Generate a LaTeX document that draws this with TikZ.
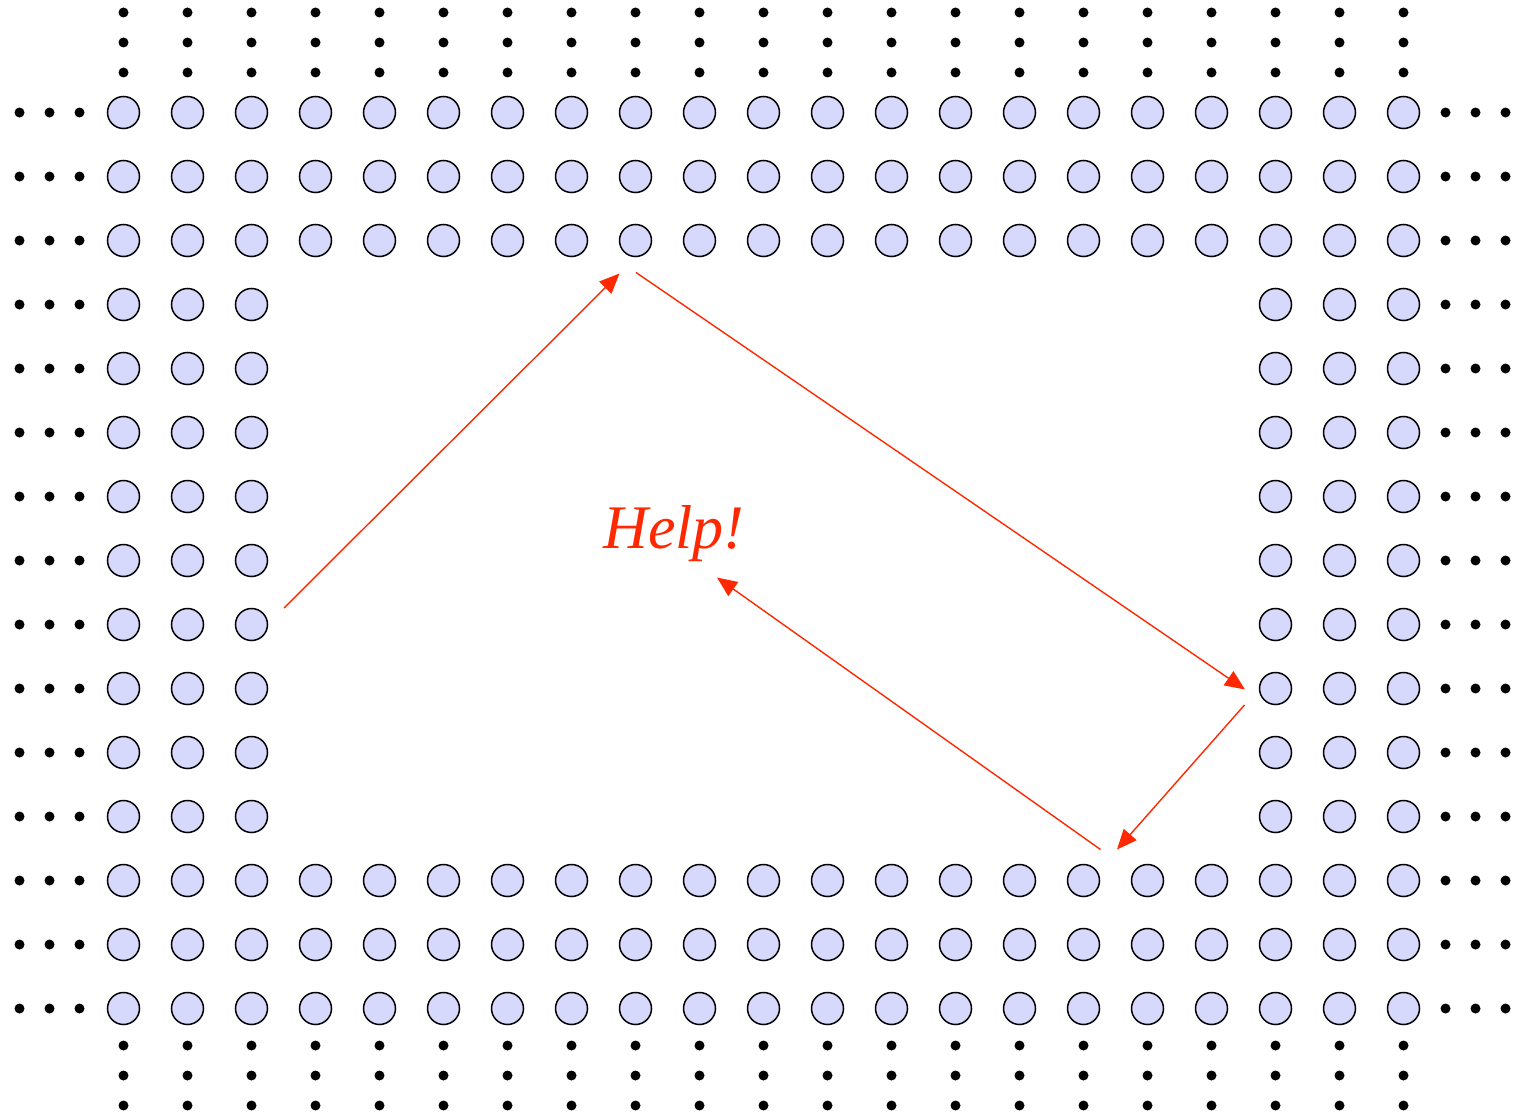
\documentclass[tikz,border=0pt]{standalone}
\usepackage{fontspec}
\setmainfont{Liberation Serif}
\usetikzlibrary{arrows.meta}
\definecolor{cfill}{RGB}{214,216,252}
\definecolor{ared}{RGB}{255,40,0}
\tikzset{
  site/.style={circle,draw=black,fill=cfill,line width=1.5pt,minimum size=32pt,inner sep=0pt},
  blob/.style={circle,fill=black,minimum size=10pt,inner sep=0pt},
  hop/.style={draw=ared,line width=1.4pt,-{Triangle[length=20pt,width=17pt]}}
}
\begin{document}
\begin{tikzpicture}[x=1pt,y=-1pt]
\useasboundingbox (0,0) rectangle (1516,1116);
% circles
\foreach \i in {0,...,20}{
  \foreach \j in {0,...,14}{
    \pgfmathtruncatemacro{\show}{(\j<3)||(\j>11)||(\i<3)||(\i>17)}
    \ifnum\show=1
      \node[site] (c-\i-\j) at ({123.5+64*\i},{112.5+64*\j}) {};
    \fi
  }
}
% dots top and bottom
\foreach \i in {0,...,20}{
  \foreach \k/\dy in {1/40,2/70,3/100}{
    \node[blob] (t-\i-\k) at ({123.5+64*\i},{112.5-\dy}) {};
    \node[blob] (b-\i-\k) at ({123.5+64*\i},{1008.5+\dy-3}) {};
  }
}
% dots left and right
\foreach \j in {0,...,14}{
  \foreach \k/\dx in {1/44,2/74,3/104}{
    \node[blob] (l-\j-\k) at ({123.5-\dx},{112.5+64*\j}) {};
    \node[blob] (r-\j-\k) at ({1403.5+\dx-2},{112.5+64*\j}) {};
  }
}
% arrows
\coordinate (a1) at (284,608);
\coordinate (a2) at (619.5,273.5);
\coordinate (b1) at (636,272.5);
\coordinate (b2) at (1245,689.5);
\coordinate (d1) at (1244.5,705);
\coordinate (d2) at (1117,849.5);
\coordinate (e1) at (1100.5,849.5);
\coordinate (e2) at (717,577.5);
\draw[hop] (a1) -- (a2);
\draw[hop] (b1) -- (b2);
\draw[hop] (d1) -- (d2);
\draw[hop] (e1) -- (e2);
\node[text=ared,font=\fontsize{62}{70}\selectfont\itshape,anchor=base,inner sep=0pt] (help) at (674,548) {Help!};
\end{tikzpicture}
\end{document}
